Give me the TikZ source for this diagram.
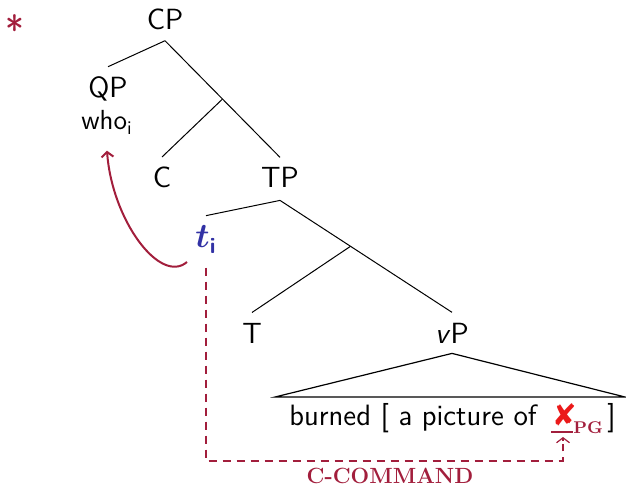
\documentclass[tikz,border=0pt]{standalone}
\usepackage{amsmath}
\usepackage{bm}
\usepackage{pifont}
\usetikzlibrary{arrows.meta,calc}
\definecolor{crim}{RGB}{162,30,60}
\definecolor{tblue}{RGB}{50,50,165}
\definecolor{xred}{RGB}{235,25,25}
\begin{document}
\begin{tikzpicture}[x=0.5pt,y=-0.5pt,
  lbl/.style={font=\sffamily\fontsize{14.6}{17}\selectfont, anchor=base, inner sep=0pt},
  small/.style={font=\sffamily\fontsize{13.8}{16}\selectfont, anchor=base, inner sep=0pt},
  branch/.style={line width=0.5pt, black},
  dashedpath/.style={crim, line width=1pt, dash pattern=on 4pt off 3pt},
  movearrow/.style={crim, line width=1pt, -{Straight Barb[length=2.5pt,width=6pt]}}
]
\useasboundingbox (0,0) rectangle (626,486);

% star
\node[font=\sffamily\fontsize{20}{20}\selectfont, text=crim, inner sep=0pt] (star) at (15,30) {*};

% tree labels
\node[lbl] (CP) at (165,30) {CP};
\node[lbl] (QP) at (108,98) {QP};
\node[small] (who) at (107,130) {who\textsubscript{i}};
\node[lbl] (C) at (162,188) {C};
\node[lbl] (TP) at (280,188) {TP};
\node[lbl, text=tblue, font=\sffamily\fontsize{16}{18}\selectfont] (t) at (206,248) {$\bm{t}$\textsubscript{\sffamily\bfseries i}};
\node[lbl] (T) at (252,343) {T};
\node[lbl] (vP) at (452,343) {\textit{v}P};

% branches
\coordinate (cpb) at ([yshift=-5pt]CP.south);
\coordinate (tpt) at ([yshift=5pt]TP.north);
\coordinate (br1) at ($(cpb)!0.5!(tpt)$);
\draw[branch] (cpb) -- ([yshift=5pt]QP.north);
\draw[branch] (cpb) -- (tpt);
\draw[branch] (br1) -- ([yshift=5pt]C.north);

\coordinate (tpb) at ([yshift=-6pt]TP.south);
\coordinate (vpt) at ([yshift=5pt]vP.north);
\coordinate (br2) at ($(tpb)!0.41!(vpt)$);
\draw[branch] (tpb) -- ([yshift=5pt]t.north);
\draw[branch] (tpb) -- (vpt);
\draw[branch] (br2) -- ([yshift=5pt]T.north);

% triangle
\coordinate (apex) at ([yshift=-5pt]vP.south);
\draw[branch, line width=0.6pt] (apex) -- (275,397) -- (625,397) -- cycle;

% terminal string
\node[lbl, anchor=base west, font=\sffamily\fontsize{14.7}{17}\selectfont] (bur) at (289,425) {burned [ a picture of};
\node[lbl, anchor=base west, text=xred] (X) at (554,425) {\fontsize{15.5}{15}\selectfont\ding{56}};
\node[anchor=base west, inner sep=0pt, text=crim, font=\rmfamily\bfseries\fontsize{8.5}{10}\selectfont] (pg) at (573,433) {PG};
\node[lbl, anchor=base west, font=\sffamily\fontsize{14.7}{17}\selectfont] (rb) at (607,425) {]};
\draw[crim, line width=0.6pt] (551,432) -- (573,432);

% c-command path
\coordinate (cc1) at (t.south |- 0,461);
\coordinate (cc2) at (563,461);
\draw[dashedpath] ([yshift=-7pt]t.south) -- (cc1) -- (cc2) -- (563,444);
\draw[crim, line width=0.6pt, -{Straight Barb[length=2.5pt,width=6.5pt]}] (563,441) -- (563,437);
\node[anchor=base, inner sep=0pt, text=crim, font=\rmfamily\bfseries\fontsize{11}{13}\selectfont] (cc) at (390,483) {C-COMMAND};

% movement arrow
\draw[movearrow] (187,262) .. controls (160,285) and (112,220) .. ([yshift=-8pt]who.south);
\end{tikzpicture}
\end{document}
